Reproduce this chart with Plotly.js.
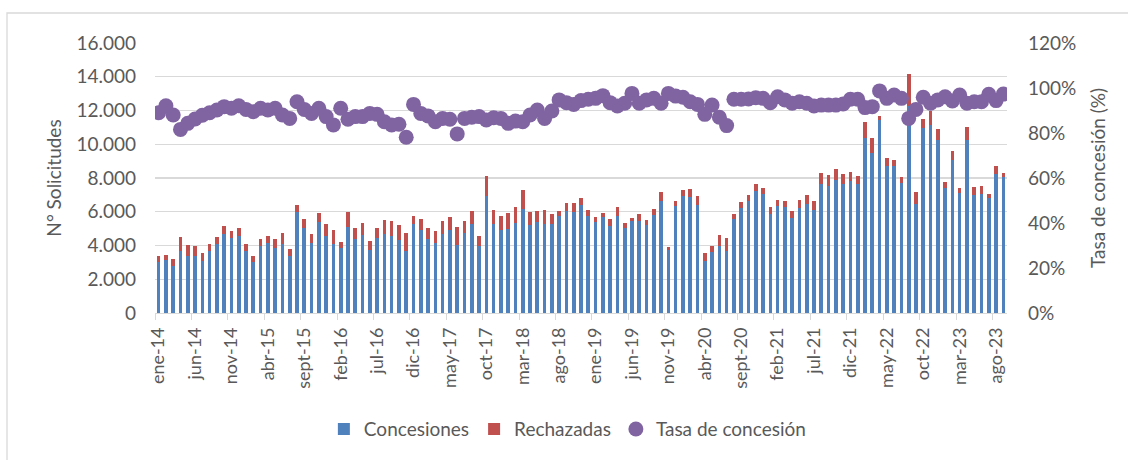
<!DOCTYPE html>
<html>
<head>
<meta charset="utf-8">
<script src="https://cdn.plot.ly/plotly-3.0.1.min.js"></script>
<style>
  html, body { margin: 0; padding: 0; background: #fff; }
  #chart { width: 1128px; height: 460px; }
</style>
</head>
<body>
<div id="chart"></div>
<script>
// Month abbreviations (Spanish) and years for the category labels
const monthNames = ["ene","feb","mar","abr","may","jun","jul","ago","sept","oct","nov","dic"];
const startYear = 14;
const nMonths = 117; // ene-14 .. sept-23

const categories = [];
for (let i = 0; i < nMonths; i++) {
  categories.push(monthNames[i % 12] + "-" + (startYear + Math.floor(i / 12)));
}

// Concesiones (granted) per month
const concesiones = [
  3000,3140,2790,3660,3360,3400,3100,3660,4090,4680,4470,4570,
  3660,3040,3950,4170,3830,4090,3380,6010,5020,4130,5380,4580,
  4090,3830,5120,4390,4640,3750,4430,4680,4550,4350,3660,5280,
  4940,4390,4130,4680,4900,4030,4740,5280,3950,6960,5280,4940,
  4980,5360,6190,5240,5400,5280,5280,5750,6030,5970,6380,5770,
  5400,5670,5140,5750,5040,5430,5430,5220,5810,6620,3750,6320,
  6960,6860,6420,3080,3640,3970,3680,5550,6230,6640,7230,7060,
  5870,6360,6260,5630,6250,6440,6110,7650,7530,7910,7630,7830,
  7650,10380,9510,11460,8720,8700,7690,12260,6460,10950,11150,10260,
  7430,9070,7090,10260,6980,7040,6800,8240,8040
];

// Rechazadas (rejected) per month
const rechazadas = [
  360,300,410,830,670,570,440,450,400,500,410,490,
  450,320,440,410,560,650,410,410,550,570,550,700,
  830,400,890,630,700,540,610,850,920,890,1060,450,
  650,650,730,750,810,1050,730,790,600,1160,830,790,
  970,940,1120,770,630,850,590,320,490,530,420,360,
  270,280,410,550,300,180,420,310,380,550,160,340,
  330,510,540,460,350,670,770,320,350,380,400,370,
  430,360,400,440,470,540,550,670,650,650,630,530,
  490,940,870,220,450,350,350,1910,690,550,850,650,
  320,550,300,790,470,470,280,500,280
];

// Tasa de concesión (%) per month
const tasa = [
  89.0,92.1,88.0,81.6,84.3,86.2,87.9,89.0,90.2,91.7,91.0,92.1,
  90.5,89.5,91.0,90.2,91.0,88.0,86.5,93.9,90.5,88.7,91.0,87.3,
  83.6,91.0,86.1,87.3,87.3,88.7,88.3,85.0,83.6,83.9,78.1,92.7,
  88.7,87.6,85.0,86.5,86.1,79.6,86.5,87.0,87.3,85.8,86.8,86.5,
  84.3,85.3,85.0,88.0,90.2,86.5,89.8,94.7,93.5,92.7,94.4,95.0,
  95.4,96.6,93.5,92.0,93.2,97.6,93.2,94.7,95.4,93.2,97.6,96.4,
  95.9,93.9,92.7,88.3,92.4,87.0,83.3,95.0,95.0,95.1,95.7,95.4,
  93.5,96.1,94.7,93.2,93.9,93.2,92.0,92.4,92.4,92.4,92.9,95.0,
  95.0,91.3,91.7,98.7,95.4,96.9,95.4,86.5,90.5,95.9,93.2,94.7,
  96.1,94.2,96.9,93.2,93.9,93.9,97.2,94.4,97.3
];

const FONT = "Lato, 'Open Sans', sans-serif";
const TXT = "#595959";
const GRID = "#d9d9d9";

const traces = [
  {
    type: "bar", name: "Concesiones", x: categories, y: concesiones,
    marker: { color: "#4F81BD" }, hoverinfo: "x+y"
  },
  {
    type: "bar", name: "Rechazadas", x: categories, y: rechazadas,
    marker: { color: "#C0504D" }, hoverinfo: "x+y"
  },
  {
    type: "scatter", mode: "markers", name: "Tasa de concesión",
    x: categories, y: tasa, yaxis: "y2",
    marker: { color: "#8064A2", size: 15 }
  }
];

const layout = {
  width: 1128, height: 460,
  margin: { l: 155, r: 121, t: 43, b: 147, pad: 0 },
  paper_bgcolor: "#ffffff", plot_bgcolor: "#ffffff",
  font: { family: FONT, color: TXT, size: 18 },
  separators: ",.",
  barmode: "stack",
  bargap: 0.5,
  showlegend: true,
  legend: {
    orientation: "h", x: 0.484, xanchor: "center", y: -0.43, yanchor: "middle",
    font: { family: FONT, size: 19, color: TXT }, traceorder: "normal",
    itemclick: false
  },
  xaxis: {
    type: "category", range: [-0.5, 116.5],
    tickmode: "linear", tick0: 0, dtick: 5, tickson: "boundaries",
    ticks: "outside", ticklen: 6, tickcolor: GRID, tickwidth: 1,
    showline: true, linecolor: GRID, linewidth: 1.3,
    showgrid: false, zeroline: false,
    tickangle: -90, tickfont: { family: FONT, size: 18, color: TXT },
    ticklabelstandoff: 6
  },
  yaxis: {
    range: [0, 16000], dtick: 2000, tickformat: ",.0f",
    showgrid: true, gridcolor: GRID, gridwidth: 1.3,
    zeroline: false, showline: false, ticks: "",
    tickfont: { family: FONT, size: 19, color: TXT },
    ticklabelstandoff: 18,
    title: { text: "N° Solicitudes", font: { family: FONT, size: 19, color: TXT }, standoff: 9 }
  },
  yaxis2: {
    overlaying: "y", side: "right",
    range: [0, 120], dtick: 20, ticksuffix: "%",
    showgrid: false, zeroline: false, showline: false, ticks: "",
    tickfont: { family: FONT, size: 19, color: TXT },
    ticklabelstandoff: 20,
    title: { text: "Tasa de concesión (%)", font: { family: FONT, size: 19, color: TXT }, standoff: 16 }
  },
  shapes: [
    { type: "rect", xref: "paper", yref: "paper",
      x0: (7 - 155) / 852, x1: (1140 - 155) / 852,
      y0: (313 - 470) / 270, y1: (313 - 13) / 270,
      line: { color: GRID, width: 1.3 }, fillcolor: "rgba(0,0,0,0)", layer: "below" }
  ]
};

Plotly.newPlot("chart", traces, layout, { displayModeBar: false, staticPlot: true });
</script>
</body>
</html>
